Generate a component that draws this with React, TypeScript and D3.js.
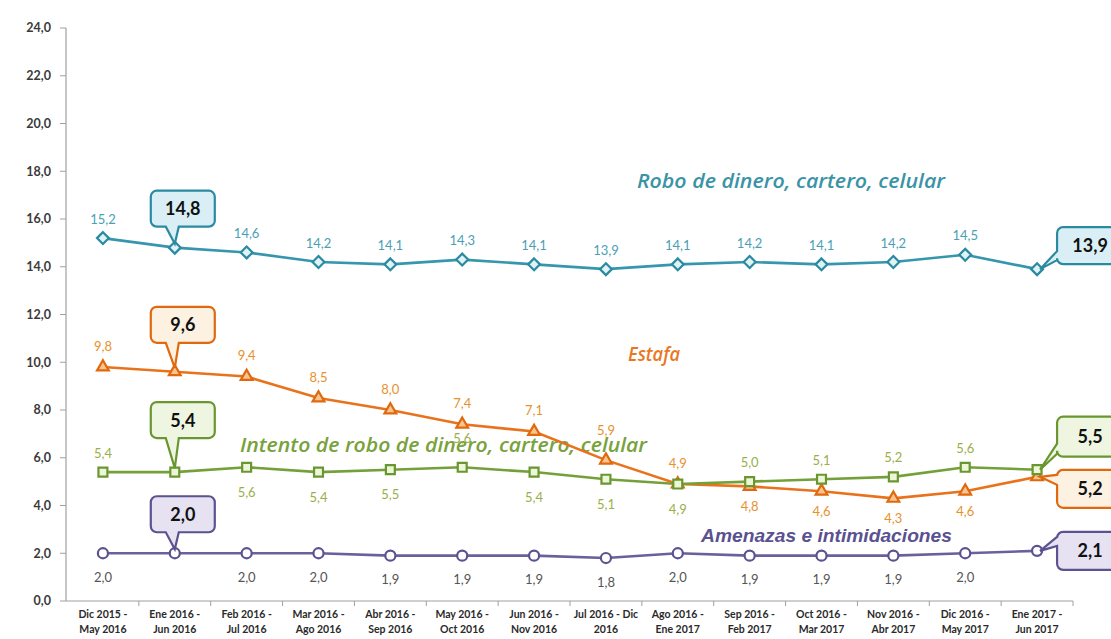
import React from 'react';
import * as d3 from 'd3';

// Categories (two-line tick labels)
const categoryLines: string[][] = [
  ['Dic 2015 -', 'May 2016'],
  ['Ene 2016 -', 'Jun 2016'],
  ['Feb 2016 -', 'Jul 2016'],
  ['Mar 2016 -', 'Ago 2016'],
  ['Abr 2016 -', 'Sep 2016'],
  ['May 2016 -', 'Oct 2016'],
  ['Jun 2016 -', 'Nov 2016'],
  ['Jul 2016 - Dic', '2016'],
  ['Ago 2016 -', 'Ene 2017'],
  ['Sep 2016 -', 'Feb 2017'],
  ['Oct 2016 -', 'Mar 2017'],
  ['Nov 2016 -', 'Abr 2017'],
  ['Dic 2016 -', 'May 2017'],
  ['Ene 2017 -', 'Jun 2017'],
];
const categories = categoryLines.map(l => l.join(' '));

const yTicks = [0, 2, 4, 6, 8, 10, 12, 14, 16, 18, 20, 22, 24];

const robo = [15.2, 14.8, 14.6, 14.2, 14.1, 14.3, 14.1, 13.9, 14.1, 14.2, 14.1, 14.2, 14.5, 13.9];
const estafa = [9.8, 9.6, 9.4, 8.5, 8.0, 7.4, 7.1, 5.9, 4.9, 4.8, 4.6, 4.3, 4.6, 5.2];
const intento = [5.4, 5.4, 5.6, 5.4, 5.5, 5.6, 5.4, 5.1, 4.9, 5.0, 5.1, 5.2, 5.6, 5.5];
const amenazas = [2.0, 2.0, 2.0, 2.0, 1.9, 1.9, 1.9, 1.8, 2.0, 1.9, 1.9, 1.9, 2.0, 2.1];

const fmt = (v: number) => d3.format('.1f')(v).replace('.', ',');

const W = 1111;
const H = 639;
const x = d3.scaleBand<string>().domain(categories).range([67, 1073]);
const y = d3.scaleLinear().domain([0, 24]).range([601, 28]);
const cx = (i: number) => (x(categories[i]) ?? 0) + x.bandwidth() / 2;

// a = label above, b = label below, c = callout
interface Series {
  name: string;
  values: number[];
  place: string;
  lift: Record<number, number>; // extra upward shift for a few labels
  line: string;
  markerFill: string;
  markerStroke: string;
  labelColor: string;
  symbol: d3.SymbolType;
  symbolSize: number;
  calloutFill: string;
  above: number;
  below: number;
  // first callout: gap between box bottom and point
  gap1: number;
  // last callout: box top / bottom relative to point, tail attach on left side
  lastTop: number;
  lastBottom: number;
  tailA: number;
  tailB: number;
}

const series: Series[] = [
  {
    name: 'robo', values: robo, place: 'acaaaaaaaaaaac', lift: {},
    line: '#3596ad', markerFill: '#dff2f5', markerStroke: '#2a8aa0', labelColor: '#4aa0b3',
    symbol: d3.symbolDiamond2, symbolSize: 90, calloutFill: '#d9eff5', above: 19, below: 24,
    gap1: 21, lastTop: -42, lastBottom: -5, tailA: -18, tailB: -9,
  },
  {
    name: 'estafa', values: estafa, place: 'acaaaaaaabbbbc', lift: { 7: 9 },
    line: '#e8731c', markerFill: '#f9c58e', markerStroke: '#e0680f', labelColor: '#e8912c',
    symbol: d3.symbolTriangle, symbolSize: 60, calloutFill: '#fdf1e2', above: 21, below: 20,
    gap1: 29, lastTop: -7, lastBottom: 31, tailA: -2, tailB: 8,
  },
  {
    name: 'intento', values: intento, place: 'acbbbabbbaaaac', lift: { 5: 10 },
    line: '#74a03a', markerFill: '#edf6d9', markerStroke: '#6a9630', labelColor: '#9bae4b',
    symbol: d3.symbolSquare, symbolSize: 80, calloutFill: '#eef6e2', above: 19, below: 25,
    gap1: 34, lastTop: -53, lastBottom: -13, tailA: -26, tailB: -16,
  },
  {
    name: 'amenazas', values: amenazas, place: 'bcbbbbbbbbbbbc', lift: {},
    line: '#6a619c', markerFill: '#ffffff', markerStroke: '#5b5290', labelColor: '#555555',
    symbol: d3.symbolCircle, symbolSize: 80, calloutFill: '#e6e2f2', above: 19, below: 24,
    gap1: 21, lastTop: -19, lastBottom: 19, tailA: -14, tailB: -5,
  },
];

// speech bubble path: rounded box plus tail on bottom or left side
function bubble(x0: number, y0: number, x1: number, y1: number, r: number,
  side: 'bottom' | 'left', a: number, b: number, tx: number, ty: number) {
  const p = d3.path();
  p.moveTo(x0 + r, y0);
  p.lineTo(x1 - r, y0);
  p.arcTo(x1, y0, x1, y0 + r, r);
  p.lineTo(x1, y1 - r);
  p.arcTo(x1, y1, x1 - r, y1, r);
  if (side === 'bottom') {
    p.lineTo(b, y1);
    p.lineTo(tx, ty);
    p.lineTo(a, y1);
  }
  p.lineTo(x0 + r, y1);
  p.arcTo(x0, y1, x0, y1 - r, r);
  if (side === 'left') {
    p.lineTo(x0, b);
    p.lineTo(tx, ty);
    p.lineTo(x0, a);
  }
  p.lineTo(x0, y0 + r);
  p.arcTo(x0, y0, x0 + r, y0, r);
  p.closePath();
  return p.toString();
}

const lineGen = d3.line<number>().x((_, i) => cx(i)).y(d => y(d));

const labelFont = 'Lato, "Open Sans", sans-serif';
const nameFont = '"Open Sans", Lato, sans-serif';

const App = () => {
  const last = categories.length - 1;
  return (
    <svg width={W} height={H} style={{ position: 'absolute', left: 0, top: 0, background: '#fff' }}
      fontFamily={labelFont}>
      {/* y axis */}
      <line x1={66} x2={66} y1={y(24)} y2={y(0)} stroke="#a0a0a0" strokeWidth={1.2} />
      {yTicks.map(t => (
        <g key={t}>
          <line x1={60} x2={66} y1={y(t)} y2={y(t)} stroke="#a0a0a0" />
          <text x={51} y={y(t)} dy="0.35em" textAnchor="end" fontSize={12.5} fontWeight={700} fill="#3a3a3a">
            {fmt(t)}
          </text>
        </g>
      ))}
      {/* x axis */}
      <line x1={66} x2={x.range()[1]} y1={y(0)} y2={y(0)} stroke="#a0a0a0" strokeWidth={1.2} />
      {categories.map((c, i) => (
        <g key={c}>
          <line x1={(x(c) ?? 0) + x.bandwidth()} x2={(x(c) ?? 0) + x.bandwidth()} y1={y(0)} y2={y(0) + 5} stroke="#a0a0a0" />
          {categoryLines[i].map((l, k) => (
            <text key={k} x={cx(i)} y={618 + k * 15} textAnchor="middle" fontSize={10.5} fontWeight={700} fill="#2a2a2a">
              {l}
            </text>
          ))}
        </g>
      ))}

      {/* series name labels */}
      <text x={637} y={188} fontSize={19} fontStyle="italic" fontWeight={600} fill="#3a93a6"
        fontFamily={nameFont} textLength={308} lengthAdjust="spacingAndGlyphs">
        Robo de dinero, cartero, celular
      </text>
      <text x={628} y={361} fontSize={19} fontStyle="italic" fontWeight={600} fill="#e8781f"
        fontFamily={nameFont} textLength={52} lengthAdjust="spacingAndGlyphs">
        Estafa
      </text>
      <text x={240} y={452} fontSize={19} fontStyle="italic" fontWeight={600} fill="#78a23c"
        fontFamily={nameFont} textLength={407} lengthAdjust="spacingAndGlyphs">
        Intento de robo de dinero, cartero, celular
      </text>
      <text x={701} y={542} fontSize={18} fontStyle="italic" fontWeight={700} fill="#5a5190"
        fontFamily='"Liberation Sans", Arial, sans-serif' textLength={251} lengthAdjust="spacingAndGlyphs">
        Amenazas e intimidaciones
      </text>

      {series.map(s => (
        <g key={s.name}>
          <path d={lineGen(s.values) ?? ''} fill="none" stroke={s.line} strokeWidth={2.6} />
          {s.values.map((v, i) => (
            <path key={i} transform={`translate(${cx(i)},${y(v)})`}
              d={d3.symbol(s.symbol, s.symbolSize)() ?? ''}
              fill={s.markerFill} stroke={s.markerStroke} strokeWidth={2.2} />
          ))}
          {s.values.map((v, i) => {
            const p = s.place[i];
            if (p === 'c') return null;
            const ly = (p === 'a' ? y(v) - s.above : y(v) + s.below) - (s.lift[i] ?? 0);
            return (
              <text key={'l' + i} x={cx(i)} y={ly} dy="0.35em" textAnchor="middle" fontSize={13}
                fill={s.labelColor}>
                {fmt(v)}
              </text>
            );
          })}
          {/* callouts */}
          {s.values.map((v, i) => {
            if (s.place[i] !== 'c') return null;
            const px = cx(i);
            const py = y(v);
            if (i < last) {
              const y1 = py - s.gap1;
              const y0 = y1 - 36;
              return (
                <g key={'c' + i}>
                  <path d={bubble(px - 24, y0, px + 40, y1, 6, 'bottom', px - 9, px + 4, px, py - 4)}
                    fill={s.calloutFill} stroke={s.markerStroke} strokeWidth={2.2} />
                  <text x={px + 8} y={(y0 + y1) / 2} dy="0.36em" textAnchor="middle" fontSize={18}
                    fontWeight={700} fill="#111">{fmt(v)}</text>
                </g>
              );
            }
            const x0 = px + 20;
            const y0 = py + s.lastTop;
            const y1 = py + s.lastBottom;
            return (
              <g key={'c' + i}>
                <path d={bubble(x0, y0, x0 + 66, y1, 6, 'left', py + s.tailA, py + s.tailB, px + 3, py)}
                  fill={s.calloutFill} stroke={s.markerStroke} strokeWidth={2.2} />
                <text x={x0 + 33} y={(y0 + y1) / 2} dy="0.36em" textAnchor="middle" fontSize={18}
                  fontWeight={700} fill="#111">{fmt(v)}</text>
              </g>
            );
          })}
        </g>
      ))}
    </svg>
  );
};

export default App;
